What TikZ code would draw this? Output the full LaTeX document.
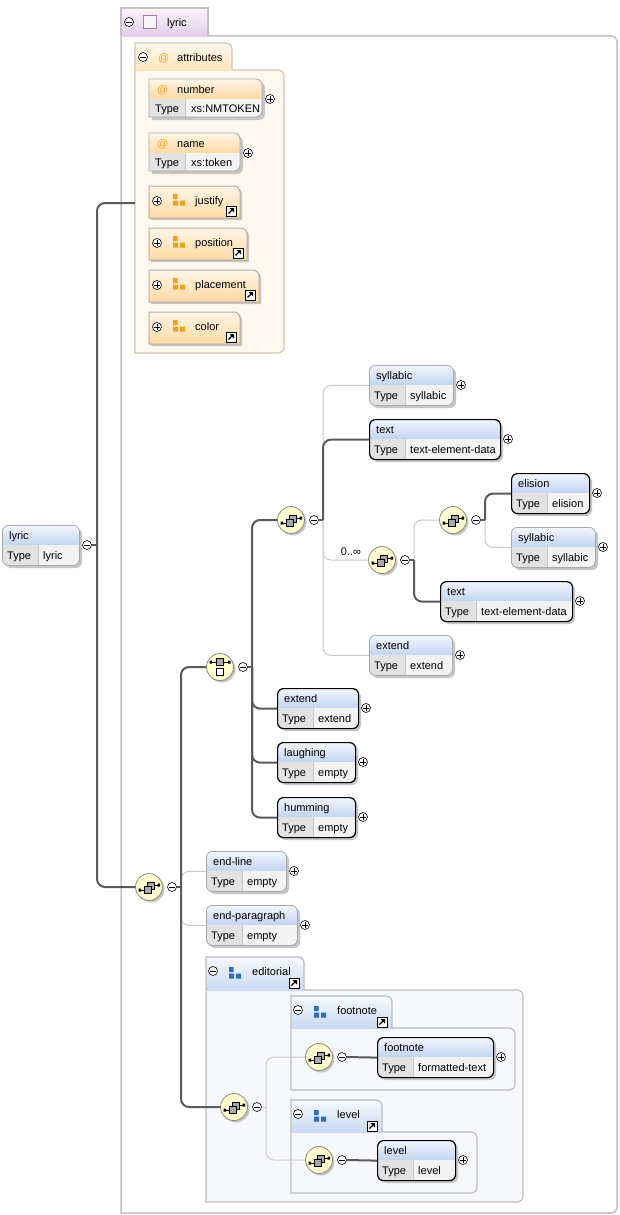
\documentclass[tikz,border=0pt]{standalone}
\usepackage{fontspec}
\setmainfont{Liberation Sans}
\usetikzlibrary{positioning}

\definecolor{elhdtop}{HTML}{F3F7FE}
\definecolor{elhdbot}{HTML}{C2D4F2}
\definecolor{typecell}{HTML}{E2E2E2}
\definecolor{valcell}{HTML}{F3F3F3}
\definecolor{thinline}{HTML}{A9A9A9}
\definecolor{shadowc}{HTML}{C6C6C6}
\definecolor{athdtop}{HTML}{FFF6E8}
\definecolor{athdbot}{HTML}{FFD9A2}
\definecolor{attab1}{HTML}{FFFAF1}
\definecolor{attab2}{HTML}{FFE2B6}
\definecolor{attrpanel}{HTML}{FFF8EE}
\definecolor{attrframe}{HTML}{CFC6B5}
\definecolor{refframe}{HTML}{B4AEA4}
\definecolor{orangeicon}{HTML}{F0A020}
\definecolor{blueicon}{HTML}{2C6FB8}
\definecolor{grptop}{HTML}{F6F9FF}
\definecolor{grpbot}{HTML}{C8D8F0}
\definecolor{grppanel}{HTML}{F6F8FC}
\definecolor{grpframe}{HTML}{BDBDBD}
\definecolor{lyrtop}{HTML}{FAF4FB}
\definecolor{lyrbot}{HTML}{E2CCE8}
\definecolor{purpleicon}{HTML}{A478B4}
\definecolor{compfill}{HTML}{FFFCCF}
\definecolor{compframe}{HTML}{8C8C7A}
\definecolor{icongray}{HTML}{A8A8A8}
\definecolor{reqline}{HTML}{5A5A5A}
\definecolor{optline}{HTML}{CACACA}
\definecolor{panelframe}{HTML}{C2C2C2}

\newcommand{\lblfont}{\fontsize{11}{13}\selectfont}

% box with the top right and bottom right corners rounded
\newcommand{\rpanel}[5]{\path[#1] (#2,#3) -- (#2+#4-6,#3) .. controls (#2+#4-2.7,#3) and (#2+#4,#3+2.7) .. (#2+#4,#3+6) -- (#2+#4,#3+#5-6) .. controls (#2+#4,#3+#5-2.7) and (#2+#4-2.7,#3+#5) .. (#2+#4-6,#3+#5) -- (#2,#3+#5) -- cycle;}
% tab with the top right corner rounded
\newcommand{\rtab}[5]{\path[#1] (#2,#3+#5) -- (#2,#3) -- (#2+#4-6,#3) .. controls (#2+#4-2.7,#3) and (#2+#4,#3+2.7) .. (#2+#4,#3+6) -- (#2+#4,#3+#5) -- cycle;}
\newcommand{\rtabopen}[5]{\path[#1] (#2,#3+#5) -- (#2,#3) -- (#2+#4-6,#3) .. controls (#2+#4-2.7,#3) and (#2+#4,#3+2.7) .. (#2+#4,#3+6) -- (#2+#4,#3+#5);}

\newcommand{\sqicon}[3]{\fill[#3] (#1,#2) rectangle ++(4.5,5) (#1,#2+6.5) rectangle ++(5,5) (#1+7,#2+6.5) rectangle ++(5,5);}
\newcommand{\linkbox}[2]{%
  \draw[fill=white, line width=1] (#1,#2) rectangle ++(10,10);
  \draw[line width=1.3] (#1+2.5,#2+7.5) -- (#1+6.5,#2+3.5);
  \fill (#1+8,#2+2) -- (#1+3.5,#2+2) -- (#1+8,#2+6.5) -- cycle;}

% element: name, x, y, width, title, type, frame, button
\newcommand{\elbox}[8]{%
  \fill[shadowc, rounded corners=6] (#2+3,#3+3) rectangle ++(#4,40);
  \begin{scope}
    \clip[rounded corners=6] (#2,#3) rectangle ++(#4,40);
    \shade[top color=elhdtop, bottom color=elhdbot] (#2,#3) rectangle ++(#4,20);
    \fill[typecell] (#2,#3+20) rectangle ++(36,20);
    \fill[valcell] (#2+37,#3+20) rectangle ++(#4-37,20);
  \end{scope}
  \node[elframe, #7, minimum width=#4] (#1) at (#2,#3) {};
  \node[lbl] (#1n) at (#2+7,#3+14) {#5};
  \node[lbl] (#1k) at (#2+5,#3+34) {Type};
  \node[lbl] (#1v) at (#2+41,#3+34) {#6};
  \node[#8] (#1b) at (#2+#4+8,#3+20) {};}

% attribute: name, x, y, width, title, type
\newcommand{\attrbox}[6]{%
  \rpanel{fill=shadowc}{#2+3}{#3+3}{#4}{38}
  \begin{scope}
    \rpanel{clip}{#2}{#3}{#4}{38}
    \shade[top color=athdtop, bottom color=athdbot] (#2,#3) rectangle ++(#4,20);
    \fill[typecell] (#2,#3+20) rectangle ++(36,18);
    \fill[valcell] (#2+37,#3+20) rectangle ++(#4-37,18);
  \end{scope}
  \rpanel{draw=thinline, line width=.8}{#2}{#3}{#4}{38}
  \node[lbl, text=orangeicon] (#1a) at (#2+8,#3+14) {@};
  \node[lbl] (#1) at (#2+28,#3+14) {#5};
  \node[lbl] (#1k) at (#2+6,#3+33) {Type};
  \node[lbl] (#1v) at (#2+42,#3+33) {#6};
  \node[plusbtn] (#1b) at (#2+#4+8,#3+20) {};}

% attribute group reference: name, x, y, width, title
\newcommand{\grpref}[5]{%
  \rtab{fill=shadowc}{#2+2}{#3+2}{#4}{32}
  \rtab{top color=athdtop, bottom color=athdbot, draw=refframe, line width=1}{#2}{#3}{#4}{32}
  \node[plusbtn] (#1b) at (#2+8,#3+15) {};
  \sqicon{#2+24}{#3+8}{orangeicon}
  \node[lbl] (#1) at (#2+46,#3+18) {#5};
  \linkbox{#2+#4-14}{#3+20}}

% group: name, x, tab top, tab width, tab height, panel width, panel height, title
\newcommand{\grpbox}[8]{%
  \rpanel{fill=grppanel, draw=grpframe, line width=1.2}{#2}{#3+#5}{#6}{#7}
  \rtab{top color=grptop, bottom color=grpbot}{#2}{#3}{#4}{#5+1}
  \rtabopen{draw=grpframe, line width=1.2}{#2}{#3}{#4}{#5}
  \node[minusbtn] (#1b) at (#2+7,#3+14) {};
  \sqicon{#2+23}{#3+10}{blueicon}
  \node[lbl] (#1) at (#2+46,#3+18) {#8};
  \linkbox{#2+#4-15}{#3+21}}

% compositors: name, x, y
\newcommand{\seqnode}[3]{%
  \fill[shadowc] (#2+2,#3+2) circle (13.5pt);
  \node[comp] (#1) at (#2,#3) {};
  \draw[line width=.7] (#2-9,#3+3) -- (#2-5,#3+3) (#2+5,#3-2) -- (#2+9,#3-2);
  \fill (#2-10.5,#3+1.5) rectangle ++(2.5,3) (#2+8.5,#3-3.5) rectangle ++(2.5,3);
  \draw[fill=icongray, line width=.6] (#2-2,#3-5) rectangle ++(7,7);
  \draw[fill=icongray, line width=.6] (#2-5,#3-1) rectangle ++(7,7);
  \node[minusbtn] (#1m) at (#2+23,#3) {};
  \coordinate (#1j) at (#2+32,#3);}
\newcommand{\choicenode}[3]{%
  \fill[shadowc] (#2+2,#3+2) circle (13.5pt);
  \node[comp] (#1) at (#2,#3) {};
  \draw[line width=.7] (#2-9,#3-5) -- (#2+9,#3-5);
  \fill (#2-10.5,#3-6.5) rectangle ++(2.5,3) (#2+8,#3-6.5) rectangle ++(2.5,3);
  \draw[fill=icongray, line width=.6] (#2-3.5,#3-8.5) rectangle ++(7,7);
  \draw[fill=white, line width=.6] (#2-3.5,#3+1) rectangle ++(7,7);
  \node[minusbtn] (#1m) at (#2+23,#3) {};
  \coordinate (#1j) at (#2+32,#3);}

% connector: style, compositor, target
\newcommand{\branch}[3]{%
  \draw[#1] (#2m.east) -- (#2j);
  \draw[#1, rounded corners=8] (#2j) |- (#3);}

\begin{document}
\begin{tikzpicture}[x=1pt, y=-1pt,
  lbl/.style={anchor=base west, inner sep=0, font=\lblfont},
  elframe/.style={draw, rounded corners=6, minimum height=40, inner sep=0, anchor=north west},
  optel/.style={draw=thinline, line width=.8},
  reqel/.style={draw=black, line width=1.2},
  comp/.style={circle, draw=compframe, fill=compfill, line width=.8, minimum size=27, inner sep=0},
  minusbtn/.style={circle, draw, fill=white, line width=.6, minimum size=9, inner sep=0,
    path picture={\draw[line width=.6] ([xshift=-2.6]path picture bounding box.center) -- ([xshift=2.6]path picture bounding box.center);}},
  plusbtn/.style={circle, draw, fill=white, line width=.6, minimum size=9, inner sep=0,
    path picture={\draw[line width=.6] ([xshift=-2.6]path picture bounding box.center) -- ([xshift=2.6]path picture bounding box.center)
      ([yshift=-2.6]path picture bounding box.center) -- ([yshift=2.6]path picture bounding box.center);}},
  optconn/.style={draw=optline, line width=1},
  reqconn/.style={draw=reqline, line width=2}]
\useasboundingbox (0,0) rectangle (619,1215);

% lyric group
\rpanel{fill=white, draw=panelframe, line width=1.5}{121}{36}{496}{1177}
\fill[top color=lyrtop, bottom color=lyrbot] (121,8) rectangle (208,37);
\draw[panelframe, line width=1.5] (121,36) -- (121,8) -- (208,8) -- (208,36);
\node[minusbtn] (lyricb) at (129,22) {};
\draw[purpleicon, fill=lyrtop, line width=1] (143.5,15.5) rectangle (156.5,28.5);
\node[lbl] (lyrictab) at (167,27) {lyric};

% attributes
\rpanel{fill=attrpanel, draw=attrframe, line width=1.2}{135}{70}{149}{283}
\rtab{top color=attab1, bottom color=attab2}{135}{43}{97}{28}
\rtabopen{draw=attrframe, line width=1.2}{135}{43}{97}{27}
\node[minusbtn] (attrb) at (143,57) {};
\node[lbl, text=orangeicon] (attra) at (158,62) {@};
\node[lbl] (attrtab) at (177,62) {attributes};
\coordinate (attrin) at (135,203);

\attrbox{number}{149}{79}{113}{number}{xs:NMTOKEN}
\attrbox{name}{149}{133}{91}{name}{xs:token}
\grpref{justify}{149}{186}{91}{justify}
\grpref{position}{149}{228}{98}{position}
\grpref{placement}{149}{270}{110}{placement}
\grpref{color}{149}{312}{91}{color}

% editorial groups
\grpbox{editorial}{206}{957}{98}{33}{317}{212}{editorial}
\grpbox{fngrp}{291}{996}{101}{32}{224}{62}{footnote}
\grpbox{lvgrp}{291}{1100}{91}{32}{186}{61}{level}

% elements
\elbox{root}{2}{525}{77}{lyric}{lyric}{optel}{minusbtn}
\coordinate (rootj) at (97,545);
\elbox{syl1}{369}{365}{84}{syllabic}{syllabic}{optel}{plusbtn}
\elbox{txt1}{369}{419}{131}{text}{text-element-data}{reqel}{plusbtn}
\elbox{elision}{511}{473}{78}{elision}{elision}{reqel}{plusbtn}
\elbox{syl2}{511}{527}{84}{syllabic}{syllabic}{optel}{plusbtn}
\elbox{txt2}{440}{581}{132}{text}{text-element-data}{reqel}{plusbtn}
\elbox{ext1}{369}{635}{83}{extend}{extend}{optel}{plusbtn}
\elbox{ext2}{277}{688}{81}{extend}{extend}{reqel}{plusbtn}
\elbox{laugh}{277}{742}{78}{laughing}{empty}{reqel}{plusbtn}
\elbox{humm}{277}{797}{78}{humming}{empty}{reqel}{plusbtn}
\elbox{endline}{206}{851}{80}{end-line}{empty}{optel}{plusbtn}
\elbox{endpara}{206}{905}{91}{end-paragraph}{empty}{optel}{plusbtn}
\elbox{fnote}{377}{1037}{116}{footnote}{formatted-text}{reqel}{plusbtn}
\elbox{level}{377}{1140}{78}{level}{level}{reqel}{plusbtn}

% compositors
\seqnode{seq1}{149}{887}
\choicenode{choice}{220}{667}
\seqnode{seq2}{291}{520}
\seqnode{seq3}{382}{560}
\seqnode{seq4}{453}{520}
\seqnode{seqE}{234}{1107}
\seqnode{seqF}{319}{1057}
\seqnode{seqL}{319}{1160}
\node[font=\lblfont, inner sep=0] (occ) at (351,552) {0..∞};

% optional connectors
\branch{optconn}{seq1}{endline.west}
\branch{optconn}{seq1}{endpara.west}
\branch{optconn}{seq2}{syl1.west}
\branch{optconn}{seq2}{seq3.west}
\branch{optconn}{seq2}{ext1.west}
\branch{optconn}{seq3}{seq4.west}
\branch{optconn}{seq4}{syl2.west}
\branch{optconn}{seqE}{seqF.west}
\branch{optconn}{seqE}{seqL.west}

% required connectors
\draw[reqconn] (rootb.east) -- (rootj);
\draw[reqconn, rounded corners=8] (rootj) |- (attrin);
\draw[reqconn, rounded corners=8] (rootj) |- (seq1.west);
\branch{reqconn}{seq1}{choice.west}
\branch{reqconn}{seq1}{seqE.west}
\branch{reqconn}{choice}{seq2.west}
\branch{reqconn}{choice}{ext2.west}
\branch{reqconn}{choice}{laugh.west}
\branch{reqconn}{choice}{humm.west}
\branch{reqconn}{seq2}{txt1.west}
\branch{reqconn}{seq3}{txt2.west}
\branch{reqconn}{seq4}{elision.west}
\draw[reqconn] (seqFm.east) -- (fnote.west);
\draw[reqconn] (seqLm.east) -- (level.west);
\end{tikzpicture}
\end{document}
